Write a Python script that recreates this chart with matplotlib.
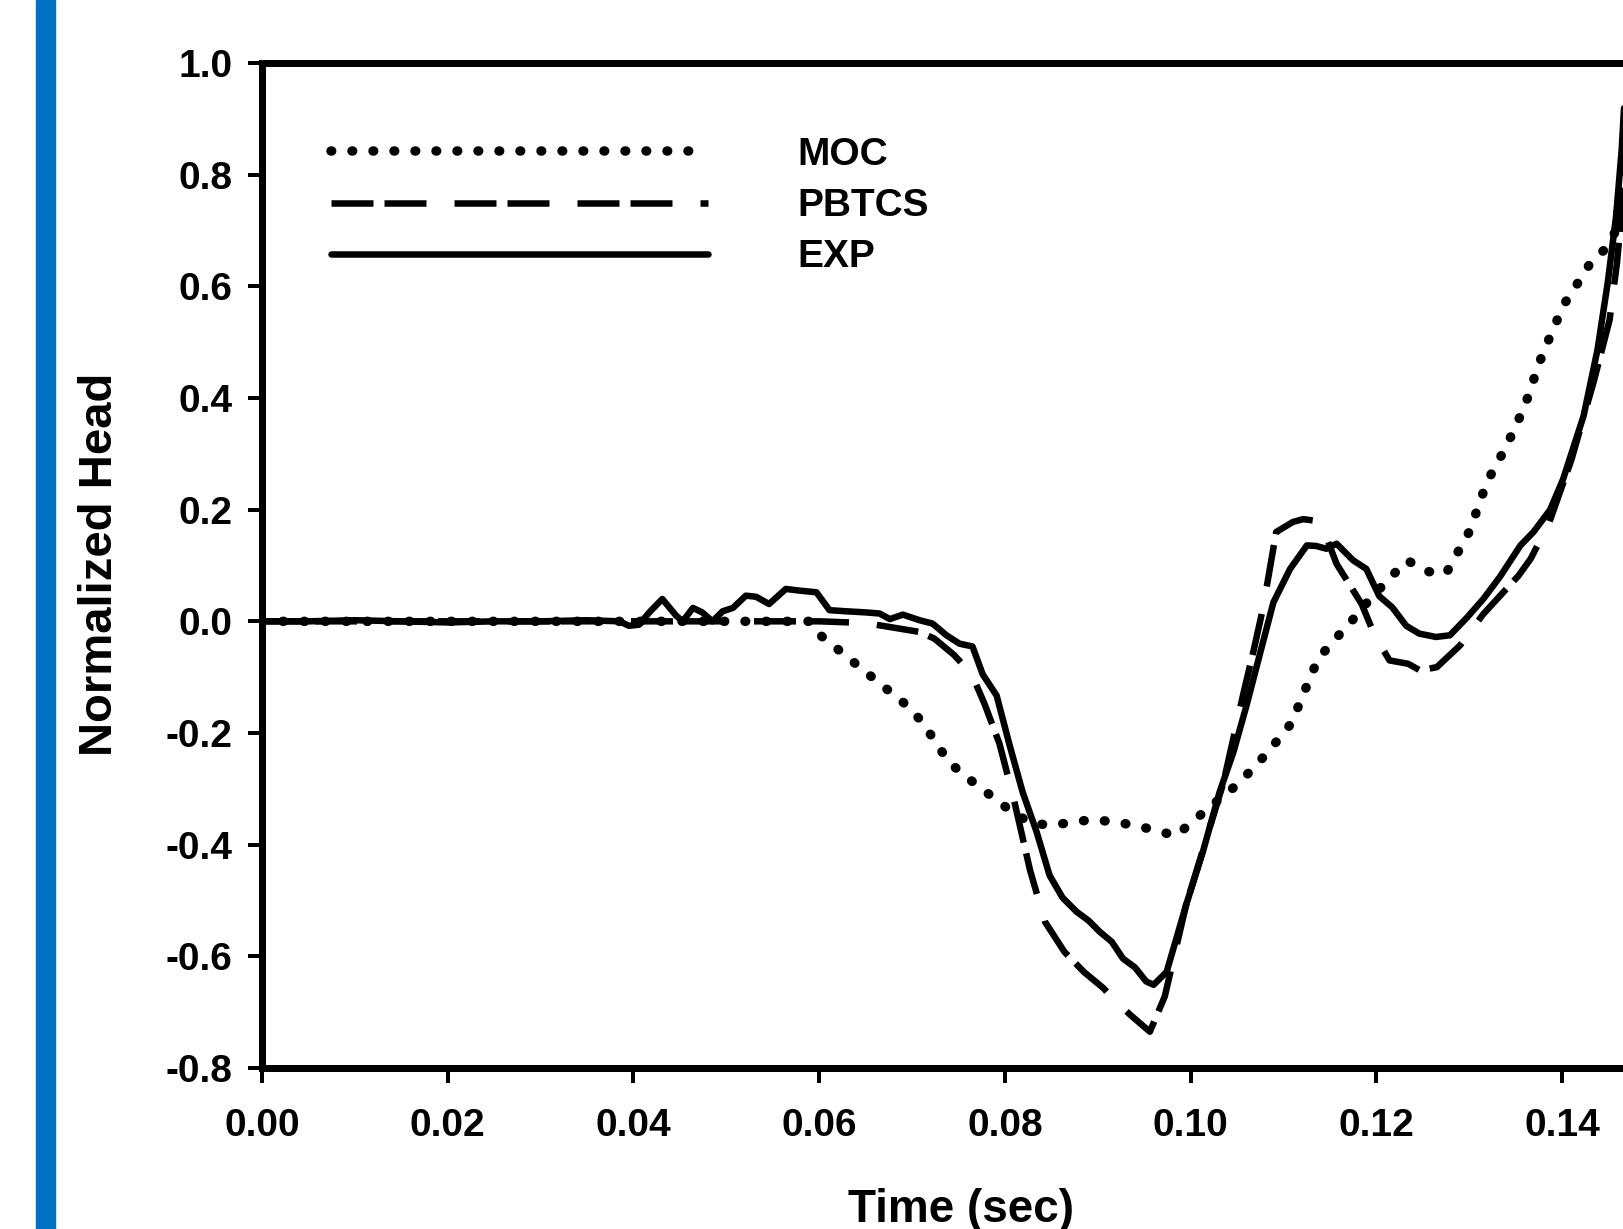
import matplotlib
matplotlib.use("Agg")
import matplotlib.pyplot as plt
from matplotlib.lines import Line2D
from matplotlib.patches import Rectangle

plt.rcParams['font.family'] = ['Liberation Sans', 'DejaVu Sans']
plt.rcParams['font.weight'] = 'bold'
plt.rcParams['axes.unicode_minus'] = False
plt.rcParams['lines.scale_dashes'] = False

# ---- data ----
exp_t = [0.000, 0.005, 0.010, 0.015, 0.020, 0.025, 0.030, 0.035, 0.0385, 0.0395,
         0.0406, 0.0417, 0.0431, 0.0446, 0.0453, 0.0464, 0.0474, 0.0485, 0.0496, 0.0507,
         0.0521, 0.0532, 0.0546, 0.0564, 0.0579, 0.0597, 0.0611, 0.0629, 0.0650, 0.0665,
         0.0676, 0.0690, 0.0708, 0.0722, 0.0737, 0.0751, 0.0765, 0.0776, 0.0791, 0.0805,
         0.0819, 0.0834, 0.0848, 0.0862, 0.0877, 0.0890, 0.0902, 0.0915, 0.0927, 0.0940,
         0.0952, 0.0960, 0.0974, 0.0995, 0.1013, 0.1031, 0.1046, 0.1060, 0.1075, 0.1089,
         0.1107, 0.1125, 0.1135, 0.1146, 0.1157, 0.1175, 0.1189, 0.1203, 0.1217, 0.1232,
         0.1246, 0.1264, 0.1279, 0.1297, 0.1315, 0.1333, 0.1355, 0.1369, 0.1387, 0.1401,
         0.1423, 0.1438, 0.1449, 0.1458, 0.1464, 0.1468, 0.1472]
exp_h = [0.000, 0.000, 0.002, 0.000, -0.002, 0.000, 0.000, 0.002, 0.000, -0.008,
         -0.006, 0.016, 0.040, 0.010, 0.000, 0.024, 0.016, 0.000, 0.018, 0.024,
         0.046, 0.044, 0.031, 0.058, 0.055, 0.052, 0.020, 0.018, 0.016, 0.014,
         0.004, 0.012, 0.002, -0.004, -0.025, -0.040, -0.045, -0.095, -0.133, -0.222,
         -0.306, -0.377, -0.455, -0.495, -0.520, -0.536, -0.556, -0.574, -0.604, -0.620,
         -0.645, -0.651, -0.628, -0.508, -0.413, -0.306, -0.234, -0.151, -0.055, 0.034,
         0.094, 0.136, 0.135, 0.130, 0.139, 0.109, 0.094, 0.045, 0.025, -0.008,
         -0.022, -0.028, -0.025, 0.006, 0.040, 0.080, 0.136, 0.160, 0.200, 0.255,
         0.368, 0.487, 0.607, 0.726, 0.845, 0.964, 1.050]

pbtcs_t = [0.000, 0.030, 0.060, 0.0650, 0.0668, 0.0708, 0.0724, 0.0745, 0.0764, 0.0778,
           0.0794, 0.0809, 0.0827, 0.0843, 0.0864, 0.0885, 0.0906, 0.0916, 0.0935, 0.0956,
           0.0972, 0.0995, 0.1013, 0.1035, 0.1057, 0.1068, 0.1076, 0.1082, 0.1092, 0.1110,
           0.1121, 0.1135, 0.1148, 0.1157, 0.1184, 0.1198, 0.1214, 0.1234, 0.1247, 0.1265,
           0.1290, 0.1315, 0.1353, 0.1366, 0.1386, 0.1410, 0.1434, 0.1451, 0.1459, 0.1466,
           0.1475]
pbtcs_h = [0.000, 0.000, 0.000, -0.003, -0.008, -0.019, -0.031, -0.060, -0.094, -0.148,
           -0.219, -0.315, -0.446, -0.538, -0.592, -0.628, -0.657, -0.675, -0.705, -0.735,
           -0.672, -0.508, -0.410, -0.290, -0.127, -0.050, 0.010, 0.064, 0.160, 0.178,
           0.183, 0.180, 0.142, 0.103, 0.031, -0.025, -0.070, -0.076, -0.088, -0.082,
           -0.043, 0.013, 0.082, 0.112, 0.177, 0.290, 0.430, 0.540, 0.643, 0.774,
           0.950]

moc_t = [0.000, 0.059, 0.0602, 0.0623, 0.0645, 0.0668, 0.0691, 0.0711, 0.0725, 0.0740,
         0.0761, 0.0783, 0.0805, 0.0828, 0.0851, 0.0872, 0.0894, 0.0916, 0.0939, 0.0961,
         0.0984, 0.1006, 0.1029, 0.1051, 0.1073, 0.1092, 0.1110, 0.1118, 0.1128, 0.1137,
         0.1155, 0.1175, 0.1194, 0.1214, 0.1233, 0.1256, 0.1275, 0.1288, 0.1300, 0.1308,
         0.1316, 0.1326, 0.1339, 0.1349, 0.1359, 0.1367, 0.1374, 0.1383, 0.1392, 0.1402,
         0.1416, 0.1430, 0.1445, 0.1458, 0.1470]
moc_h = [0.000, 0.000, -0.026, -0.054, -0.084, -0.115, -0.146, -0.180, -0.216, -0.253,
         -0.282, -0.310, -0.338, -0.362, -0.365, -0.360, -0.355, -0.359, -0.365, -0.374,
         -0.384, -0.353, -0.321, -0.291, -0.253, -0.216, -0.179, -0.142, -0.104, -0.067,
         -0.033, 0.004, 0.042, 0.077, 0.109, 0.089, 0.086, 0.125, 0.161, 0.198,
         0.236, 0.273, 0.310, 0.347, 0.383, 0.421, 0.458, 0.495, 0.530, 0.568,
         0.604, 0.641, 0.665, 0.700, 0.900]

x_ticks = [0.00, 0.02, 0.04, 0.06, 0.08, 0.10, 0.12, 0.14]
y_ticks = [-0.8, -0.6, -0.4, -0.2, 0.0, 0.2, 0.4, 0.6, 0.8, 1.0]
series_names = ['MOC', 'PBTCS', 'EXP']

W, H = 1624, 1229
fig = plt.figure(figsize=(W / 100, H / 100), dpi=100)

# blue bar at the left edge
fig.patches.append(Rectangle((36 / W, 0), 19 / W, 1, transform=fig.transFigure,
                             color='#0070C0', zorder=0))

ax = fig.add_axes([262 / W, 161 / H, (1748 - 262) / W, (1166 - 161) / H])

px = 0.72  # pixels -> points
dot_style = dict(color='black', lw=9.5 * px, dashes=[0.5, 21 * px - 0.5],
                 dash_capstyle='round', solid_capstyle='round')
dash_style = dict(color='black', lw=6.5 * px, dashes=[42 * px, 11 * px, 42 * px, 28 * px],
                  dash_capstyle='butt')
solid_style = dict(color='black', lw=6.5 * px, solid_capstyle='round', solid_joinstyle='round')

ax.plot(moc_t, moc_h, **dot_style)
ax.plot(pbtcs_t, pbtcs_h, **dash_style)
ax.plot(exp_t, exp_h, **solid_style)

ax.set_xlim(0, 0.16)
ax.set_ylim(-0.8, 1.0)
ax.set_xticks(x_ticks)
ax.set_yticks(y_ticks)
ax.set_xticklabels(['%.2f' % v for v in x_ticks])
ax.set_yticklabels(['%.1f' % v for v in y_ticks])

for s in ax.spines.values():
    s.set_linewidth(7 * px)
ax.tick_params(axis='both', direction='out', width=4 * px, labelsize=28)
ax.tick_params(axis='y', length=14 * px, pad=11)
ax.tick_params(axis='x', length=15 * px, pad=18)
for lab in ax.get_xticklabels() + ax.get_yticklabels():
    lab.set_fontweight('bold')

handles = [Line2D([], [], **dot_style),
           Line2D([], [], **dash_style),
           Line2D([], [], **solid_style)]
leg = ax.legend(handles, series_names, loc='upper left',
                bbox_to_anchor=((331 - 262) / (1748 - 262), (1068 - 137) / (1068 - 63)),
                frameon=False, borderpad=0, borderaxespad=0,
                handlelength=9.7, handletextpad=2.3, labelspacing=0.39,
                prop={'size': 28, 'weight': 'bold'})

fig.text(100 / W, (H - 564) / H, 'Normalized Head', rotation=90, ha='center', va='center',
         fontsize=34, fontweight='bold')
fig.text(961 / W, 7 / H, 'Time (sec)', ha='center', va='baseline',
         fontsize=33, fontweight='bold')

fig.savefig('out.png', dpi=100)
